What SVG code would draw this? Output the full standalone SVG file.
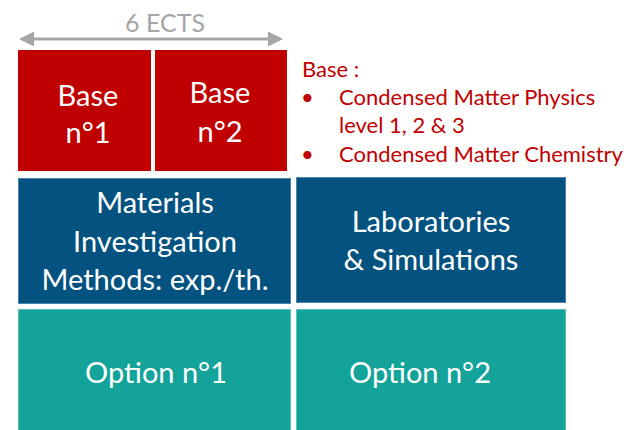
<svg xmlns="http://www.w3.org/2000/svg" width="627" height="430" viewBox="0 0 627 430">
<style>
.lbl{font-family:Lato,"Open Sans","Liberation Sans",sans-serif;fill:#fff;font-size:29px;text-anchor:middle}
.red{fill:#c00000}
.blue{fill:#03527f;stroke:#4a82aa;stroke-width:1}
.teal{fill:#13a39a;stroke:#5cbfb8;stroke-width:1}
.note{font-family:Lato,"Open Sans","Liberation Sans",sans-serif;fill:#c00000;font-size:22px}
</style>
<defs>
<marker id="ah" viewBox="0 0 10 10" refX="8" refY="5" markerWidth="5" markerHeight="5" orient="auto-start-reverse" markerUnits="strokeWidth">
<path d="M0,0 L10,5 L0,10 z" fill="#a6a6a6"/>
</marker>
</defs>
<g id="connectors">
<line x1="22" y1="39" x2="280" y2="39" stroke="#a6a6a6" stroke-width="3" marker-start="url(#ah)" marker-end="url(#ah)"/>
<text x="165" y="32" font-family="Lato,'Open Sans','Liberation Sans',sans-serif" font-size="25" fill="#a6a6a6" text-anchor="middle">6 ECTS</text>
</g>
<g id="base1">
<rect class="red" x="18" y="50" width="133" height="121"/>
<text class="lbl" x="88" y="106">Base</text>
<text class="lbl" x="88" y="143">n°1</text>
</g>
<g id="base2">
<rect class="red" x="155" y="50" width="132" height="121"/>
<text class="lbl" x="220" y="103">Base</text>
<text class="lbl" x="220" y="142">n°2</text>
</g>
<g id="notes">
<text class="note" x="302" y="77">Base :</text>
<text class="note" x="301" y="105">•</text>
<text class="note" x="339" y="105">Condensed Matter Physics</text>
<text class="note" x="339" y="133">level 1, 2 &amp; 3</text>
<text class="note" x="301" y="162">•</text>
<text class="note" x="339" y="162">Condensed Matter Chemistry</text>
</g>
<g id="methods">
<rect class="blue" x="18.5" y="178.5" width="272" height="125"/>
<text class="lbl" x="155" y="213">Materials</text>
<text class="lbl" x="155" y="252">Investigation</text>
<text class="lbl" x="155" y="290">Methods: exp./th.</text>
</g>
<g id="labs">
<rect class="blue" x="296.5" y="177.5" width="269" height="125"/>
<text class="lbl" x="431" y="232">Laboratories</text>
<text class="lbl" x="431" y="270">&amp; Simulations</text>
</g>
<g id="option1">
<rect class="teal" x="18.5" y="309.5" width="272" height="122"/>
<text class="lbl" x="156" y="383">Option n°1</text>
</g>
<g id="option2">
<rect class="teal" x="296.5" y="309.5" width="269" height="122"/>
<text class="lbl" x="420" y="383">Option n°2</text>
</g>
</svg>
